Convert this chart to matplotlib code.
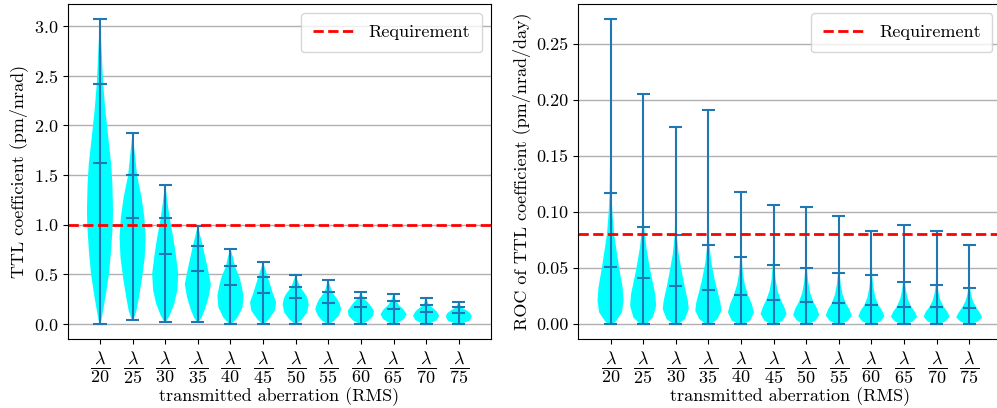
import matplotlib.pyplot as plt
import numpy as np

plt.rcParams['font.family'] = 'serif'
plt.rcParams['font.serif'] = ['cmr10']
plt.rcParams['mathtext.fontset'] = 'cm'
plt.rcParams['axes.formatter.use_mathtext'] = True
plt.rcParams['font.size'] = 13

aberration = [20, 25, 30, 35, 40, 45, 50, 55, 60, 65, 70, 75]
tick_labels = [r'$\dfrac{\lambda}{%d}$' % a for a in aberration]

# TTL coefficient (pm/nrad): violin outlines (y, relative half width), medians, 95% quantiles
ttl_y = [
    [0, 0.10, 0.27, 0.50, 0.74, 1.0, 1.14, 1.41, 1.62, 1.82, 2.0, 2.15, 2.42, 2.83, 3.07],
    [0.04, 0.13, 0.27, 0.47, 0.67, 0.875, 1.07, 1.28, 1.50, 1.75, 1.92],
    [0.02, 0.085, 0.20, 0.34, 0.505, 0.71, 0.875, 1.07, 1.21, 1.40],
    [0.02, 0.067, 0.15, 0.27, 0.40, 0.535, 0.64, 0.79, 0.91, 0.99],
    [0.0, 0.067, 0.17, 0.285, 0.39, 0.47, 0.58, 0.67, 0.755],
    [0.0, 0.05, 0.135, 0.22, 0.31, 0.47, 0.54, 0.62],
    [0.0, 0.05, 0.117, 0.20, 0.26, 0.30, 0.37, 0.44, 0.49],
    [0.0, 0.033, 0.084, 0.15, 0.21, 0.25, 0.32, 0.37, 0.44],
    [0.0, 0.033, 0.084, 0.135, 0.175, 0.22, 0.26, 0.32],
    [0.0, 0.01, 0.05, 0.10, 0.15, 0.185, 0.23, 0.30],
    [0.0, 0.01, 0.04, 0.084, 0.125, 0.15, 0.195, 0.265],
    [0.0, 0.01, 0.033, 0.074, 0.11, 0.135, 0.17, 0.22],
]
ttl_w = [
    [2, 8, 17, 28, 35, 40, 41, 39, 35, 28, 22, 17, 10, 4, 0.5],
    [2, 12, 20, 30, 38, 41, 37, 28, 14, 6, 0.5],
    [2, 14, 28, 38, 41, 33, 25, 14, 8, 0.5],
    [2, 12, 22, 33, 40, 32, 25, 15, 6, 0.5],
    [3, 22, 37, 40, 34, 28, 14, 8, 0.5],
    [3, 18, 36, 40, 30, 15, 8, 0.5],
    [3, 20, 35, 40, 36, 30, 14, 6, 0.5],
    [3, 18, 32, 40, 34, 28, 12, 7, 0.5],
    [3, 22, 36, 38, 30, 20, 8, 0.5],
    [5, 12, 32, 40, 30, 18, 8, 0.5],
    [5, 14, 33, 40, 33, 25, 8, 0.5],
    [5, 14, 33, 40, 35, 25, 8, 0.5],
]
ttl_median = [1.62, 1.07, 0.71, 0.535, 0.39, 0.31, 0.26, 0.21, 0.175, 0.15, 0.125, 0.11]
ttl_q95 = [2.42, 1.50, 1.07, 0.79, 0.58, 0.47, 0.37, 0.32, 0.26, 0.23, 0.195, 0.17]
ttl_req = 1.0

# rate of change of TTL coefficient (pm/nrad/day)
roc_y = [
    [0, 0.003, 0.0104, 0.0208, 0.0327, 0.051, 0.0625, 0.080, 0.098, 0.117, 0.15, 0.20, 0.2717],
    [0, 0.006, 0.0163, 0.0268, 0.0407, 0.0505, 0.068, 0.0869, 0.12, 0.16, 0.2047],
    [0, 0.0045, 0.0134, 0.0208, 0.034, 0.0446, 0.0625, 0.0795, 0.11, 0.14, 0.1753],
    [0, 0.0045, 0.0119, 0.0193, 0.0306, 0.0387, 0.0536, 0.0708, 0.10, 0.14, 0.1907],
    [0, 0.003, 0.0104, 0.018, 0.0256, 0.035, 0.045, 0.0595, 0.08, 0.1179],
    [0, 0.003, 0.009, 0.015, 0.0217, 0.03, 0.04, 0.0527, 0.075, 0.1063],
    [0, 0.003, 0.008, 0.014, 0.0199, 0.028, 0.038, 0.05, 0.07, 0.1042],
    [0, 0.003, 0.0075, 0.013, 0.0184, 0.026, 0.035, 0.0455, 0.065, 0.0961],
    [0, 0.0025, 0.007, 0.012, 0.0166, 0.024, 0.033, 0.0434, 0.06, 0.0827],
    [0, 0.0025, 0.0065, 0.011, 0.0155, 0.022, 0.03, 0.0378, 0.055, 0.0887],
    [0, 0.0025, 0.0065, 0.011, 0.0152, 0.021, 0.028, 0.0351, 0.05, 0.0833],
    [0, 0.0025, 0.006, 0.010, 0.0146, 0.020, 0.026, 0.0324, 0.045, 0.0708],
]
roc_w = [
    [8, 18, 35, 40, 37, 26, 20, 11, 6, 3, 1.5, 0.7, 0.3],
    [10, 30, 40, 37, 27, 20, 10, 3, 1.2, 0.6, 0.3],
    [8, 28, 40, 37, 27, 20, 9, 3, 1.2, 0.6, 0.3],
    [8, 28, 40, 37, 27, 20, 10, 3, 1.2, 0.6, 0.3],
    [8, 28, 40, 33, 22, 12, 6, 2.5, 1, 0.3],
    [8, 28, 40, 33, 22, 12, 6, 2.5, 1, 0.3],
    [8, 28, 40, 33, 22, 12, 6, 2.5, 1, 0.3],
    [8, 28, 40, 33, 22, 12, 6, 2.5, 1, 0.3],
    [8, 28, 40, 33, 22, 12, 6, 2.5, 1, 0.3],
    [8, 28, 40, 33, 22, 12, 6, 2.5, 1, 0.3],
    [8, 28, 40, 33, 22, 12, 6, 2.5, 1, 0.3],
    [8, 28, 40, 33, 22, 12, 6, 2.5, 1, 0.3],
]
roc_median = [0.051, 0.0407, 0.0339, 0.0306, 0.0256, 0.0217, 0.0199, 0.0184, 0.0166, 0.0155, 0.0152, 0.0146]
roc_q95 = [0.117, 0.0869, 0.0795, 0.0708, 0.0595, 0.0527, 0.050, 0.0455, 0.0434, 0.0378, 0.0351, 0.0324]
roc_req = 0.08


def violins(ax, ys, ws, medians, q95s, req, ylabel):
    stats = []
    for y, w, med, q in zip(ys, ws, medians, q95s):
        stats.append(dict(coords=np.array(y), vals=np.array(w, dtype=float),
                          mean=med, median=med, min=y[0], max=y[-1], quantiles=[q]))
    pos = np.arange(1, len(stats) + 1)
    parts = ax.violin(stats, positions=pos, widths=0.8, showmedians=True)
    for b in parts['bodies']:
        b.set_facecolor('cyan')
        b.set_edgecolor('none')
        b.set_alpha(1)
    for key in ['cmins', 'cmaxes', 'cbars', 'cmedians', 'cquantiles']:
        parts[key].set_color('C0')
        parts[key].set_linewidth(1.5)
    ax.axhline(req, color='r', ls='--', lw=2, label='Requirement')
    ax.yaxis.grid(True, color='#b0b0b0', lw=1)
    ax.set_axisbelow(True)
    ax.set_xticks(pos)
    ax.set_xticklabels(tick_labels)
    ax.set_xlabel('transmitted aberration (RMS)', labelpad=1)
    ax.set_ylabel(ylabel)
    ax.legend(loc='upper right', borderpad=0.65, handlelength=2.3)


fig = plt.figure(figsize=(9.97, 4.08), dpi=100)
ax1 = fig.add_axes([0.0679, 0.1684, 0.4246, 0.8218])
ax2 = fig.add_axes([0.5800, 0.1684, 0.4245, 0.8218])

violins(ax1, ttl_y, ttl_w, ttl_median, ttl_q95, ttl_req, 'TTL coefficient (pm/nrad)')
violins(ax2, roc_y, roc_w, roc_median, roc_q95, roc_req, 'ROC of TTL coefficient (pm/nrad/day)')
ax2.yaxis.set_major_formatter(plt.FormatStrFormatter('%.2f'))

fig.savefig('out.png', dpi=100)
